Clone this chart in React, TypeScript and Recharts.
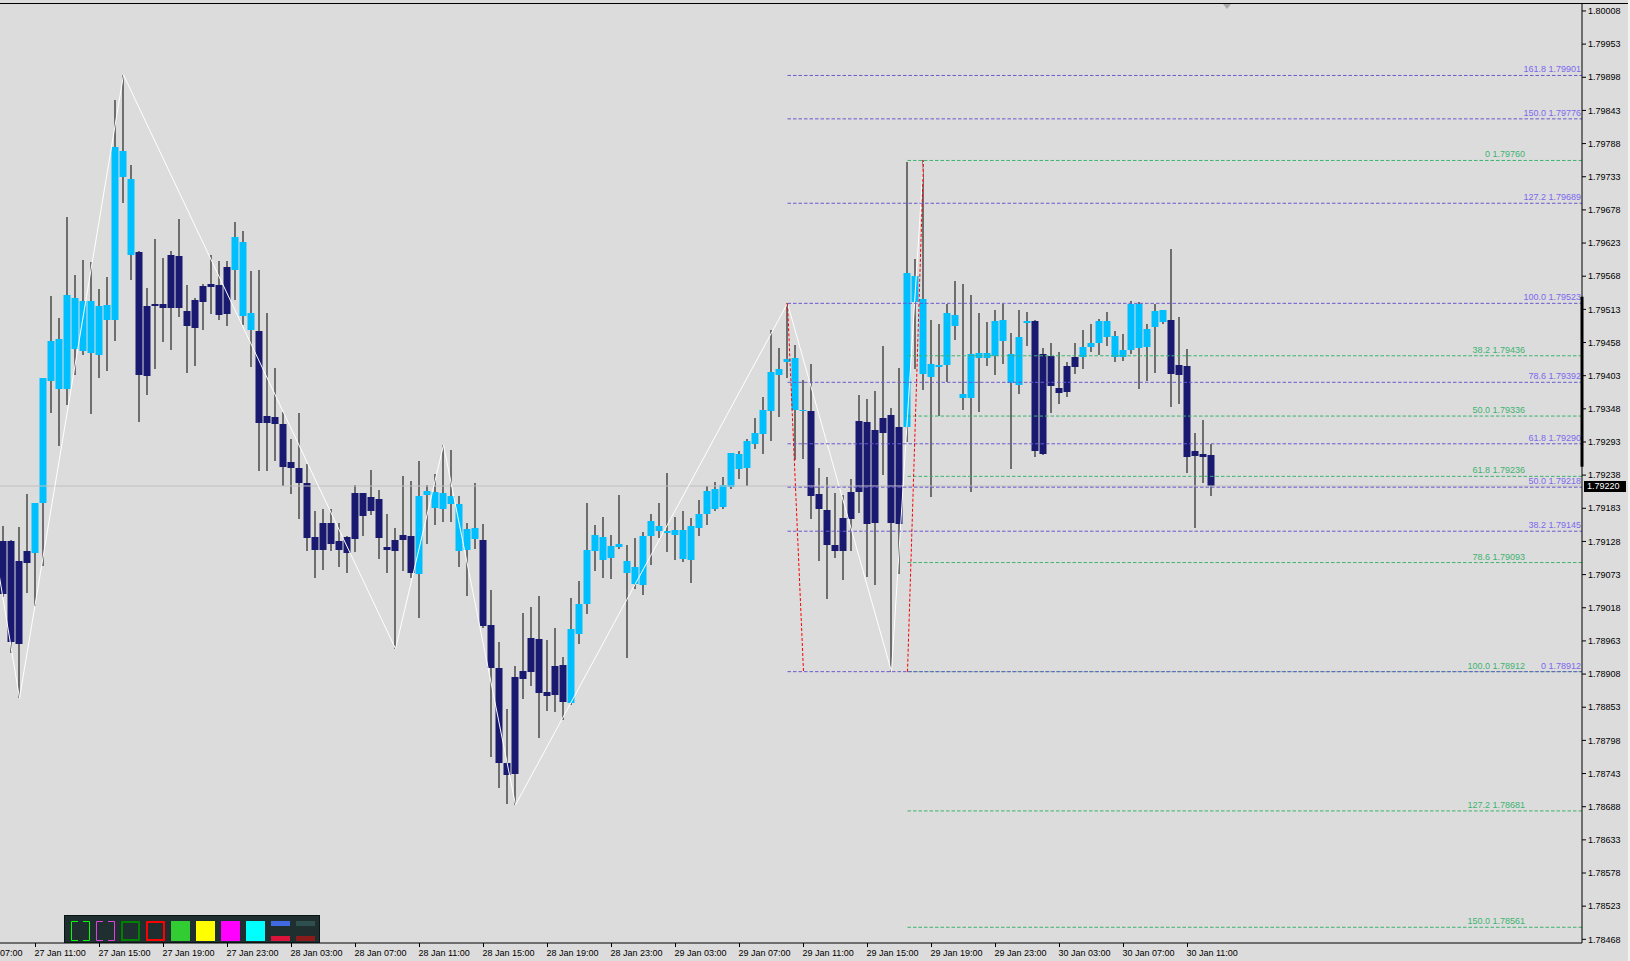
import React from 'react';
import { ComposedChart, Bar, Line, XAxis, YAxis, ReferenceLine } from 'recharts';

// EURAUD-style M30 chart, bars numbered from 27 Jan 09:00
const opens = [
  1.79129, 1.79129, 1.79096, 1.79112, 1.79109, 1.79192, 1.79394, 1.79381, 1.79381, 1.79447,
  1.79444, 1.79441, 1.79437, 1.79495, 1.79495, 1.79733, 1.79603, 1.79608, 1.79519, 1.79522,
  1.79522, 1.79603, 1.79602, 1.79510, 1.79529, 1.79552, 1.79555, 1.79553, 1.79583, 1.79578,
  1.79502, 1.79479, 1.79477, 1.79336, 1.79334, 1.79323, 1.79260, 1.79250, 1.79225, 1.79135,
  1.79159, 1.79159, 1.79129, 1.79135, 1.79208, 1.79208, 1.79202, 1.79198, 1.79120, 1.79130,
  1.79139, 1.79137, 1.79074, 1.79205, 1.79184, 1.79182, 1.79190, 1.79112, 1.79114, 1.79132,
  1.79130, 1.78989, 1.78918, 1.78761, 1.78903, 1.78913, 1.78968, 1.78966, 1.78878, 1.78921,
  1.78923, 1.78860, 1.78975, 1.79024, 1.79112, 1.79097, 1.79101, 1.79119, 1.79076, 1.79057,
  1.79056, 1.79137, 1.79145, 1.79142, 1.79139, 1.79099, 1.79097, 1.79150, 1.79174, 1.79182,
  1.79185, 1.79218, 1.79248, 1.79250, 1.79290, 1.79306, 1.79344, 1.79404, 1.79426, 1.79346,
  1.79344, 1.79344, 1.79207, 1.79180, 1.79122, 1.79167, 1.79210, 1.79328, 1.79326, 1.79313,
  1.79333, 1.79338, 1.79318, 1.79318, 1.79525, 1.79406, 1.79401, 1.79417, 1.79421, 1.79485,
  1.79366, 1.79366, 1.79432, 1.79432, 1.79436, 1.79461, 1.79391, 1.79388, 1.79490, 1.79494,
  1.79439, 1.79436, 1.79383, 1.79419, 1.79434, 1.79434, 1.79451, 1.79457, 1.79467, 1.79434,
  1.79434, 1.79446, 1.79449, 1.79451, 1.79484, 1.79492, 1.79495, 1.79421, 1.79419, 1.79278,
  1.79273, 1.79271,
];
const highs = [
  1.79154, 1.79130, 1.79152, 1.79207, 1.79192, 1.79399, 1.79535, 1.79499, 1.79666, 1.79570,
  1.79595, 1.79592, 1.79547, 1.79567, 1.79860, 1.79902, 1.79753, 1.79610, 1.79548, 1.79630,
  1.79598, 1.79610, 1.79663, 1.79553, 1.79532, 1.79555, 1.79603, 1.79593, 1.79593, 1.79658,
  1.79643, 1.79577, 1.79578, 1.79507, 1.79416, 1.79343, 1.79298, 1.79341, 1.79257, 1.79179,
  1.79182, 1.79182, 1.79159, 1.79137, 1.79222, 1.79208, 1.79247, 1.79213, 1.79174, 1.79150,
  1.79237, 1.79228, 1.79261, 1.79222, 1.79240, 1.79288, 1.79280, 1.79203, 1.79159, 1.79225,
  1.79157, 1.79047, 1.78961, 1.78850, 1.78921, 1.79009, 1.79019, 1.79038, 1.78965, 1.78984,
  1.78936, 1.79034, 1.79062, 1.79192, 1.79155, 1.79169, 1.79139, 1.79205, 1.79122, 1.79134,
  1.79144, 1.79174, 1.79192, 1.79242, 1.79169, 1.79179, 1.79167, 1.79197, 1.79220, 1.79227,
  1.79235, 1.79275, 1.79278, 1.79298, 1.79333, 1.79368, 1.79479, 1.79449, 1.79523, 1.79454,
  1.79396, 1.79422, 1.79250, 1.79235, 1.79208, 1.79205, 1.79232, 1.79371, 1.79364, 1.79378,
  1.79452, 1.79349, 1.79416, 1.79758, 1.79597, 1.79760, 1.79495, 1.79489, 1.79522, 1.79560,
  1.79555, 1.79537, 1.79507, 1.79492, 1.79512, 1.79522, 1.79474, 1.79512, 1.79509, 1.79495,
  1.79449, 1.79457, 1.79442, 1.79426, 1.79457, 1.79479, 1.79489, 1.79497, 1.79509, 1.79477,
  1.79472, 1.79527, 1.79525, 1.79489, 1.79522, 1.79512, 1.79613, 1.79500, 1.79447, 1.79308,
  1.79330, 1.79290,
];
const lows = [
  1.79036, 1.78943, 1.78868, 1.79042, 1.79021, 1.79087, 1.79341, 1.79286, 1.79354, 1.79404,
  1.79437, 1.79339, 1.79399, 1.79411, 1.79461, 1.79689, 1.79562, 1.79326, 1.79371, 1.79414,
  1.79459, 1.79446, 1.79500, 1.79407, 1.79419, 1.79479, 1.79505, 1.79495, 1.79485, 1.79529,
  1.79487, 1.79417, 1.79245, 1.79245, 1.79261, 1.79220, 1.79207, 1.79165, 1.79112, 1.79067,
  1.79081, 1.79112, 1.79086, 1.79076, 1.79111, 1.79137, 1.79172, 1.79099, 1.79076, 1.78950,
  1.79079, 1.79067, 1.79001, 1.79124, 1.79155, 1.79160, 1.79160, 1.79086, 1.79038, 1.79116,
  1.78984, 1.78770, 1.78719, 1.78692, 1.78691, 1.78867, 1.78888, 1.78802, 1.78847, 1.78845,
  1.78832, 1.78857, 1.78958, 1.79008, 1.79079, 1.79067, 1.79066, 1.79116, 1.78935, 1.79049,
  1.79039, 1.79089, 1.79134, 1.79111, 1.79097, 1.79094, 1.79059, 1.79137, 1.79155, 1.79179,
  1.79182, 1.79215, 1.79232, 1.79220, 1.79281, 1.79273, 1.79295, 1.79334, 1.79399, 1.79263,
  1.79265, 1.79165, 1.79096, 1.79033, 1.79101, 1.79064, 1.79112, 1.79175, 1.79069, 1.79056,
  1.79238, 1.78912, 1.79074, 1.79293, 1.79414, 1.79379, 1.79202, 1.79336, 1.79392, 1.79462,
  1.79346, 1.79210, 1.79343, 1.79419, 1.79404, 1.79422, 1.79248, 1.79373, 1.79452, 1.79268,
  1.79271, 1.79341, 1.79356, 1.79368, 1.79406, 1.79414, 1.79442, 1.79437, 1.79452, 1.79426,
  1.79427, 1.79439, 1.79381, 1.79394, 1.79407, 1.79489, 1.79351, 1.79356, 1.79242, 1.79150,
  1.79225, 1.79203,
];
const closes = [
  1.79041, 1.78961, 1.78958, 1.79092, 1.79192, 1.79399, 1.79461, 1.79464, 1.79537, 1.79532,
  1.79527, 1.79527, 1.79519, 1.79520, 1.79782, 1.79776, 1.79729, 1.79404, 1.79403, 1.79519,
  1.79515, 1.79515, 1.79515, 1.79485, 1.79482, 1.79525, 1.79550, 1.79504, 1.79505, 1.79633,
  1.79625, 1.79507, 1.79325, 1.79325, 1.79323, 1.79252, 1.79250, 1.79225, 1.79134, 1.79114,
  1.79114, 1.79124, 1.79114, 1.79109, 1.79132, 1.79170, 1.79179, 1.79134, 1.79114, 1.79112,
  1.79130, 1.79076, 1.79203, 1.79212, 1.79210, 1.79208, 1.79203, 1.79190, 1.79149, 1.79150,
  1.78988, 1.78918, 1.78761, 1.78741, 1.78742, 1.78900, 1.78911, 1.78877, 1.78872, 1.78873,
  1.78862, 1.78983, 1.79024, 1.79114, 1.79139, 1.79135, 1.79120, 1.79125, 1.79096, 1.79086,
  1.79137, 1.79162, 1.79154, 1.79145, 1.79147, 1.79147, 1.79154, 1.79174, 1.79212, 1.79215,
  1.79222, 1.79275, 1.79273, 1.79295, 1.79308, 1.79346, 1.79409, 1.79414, 1.79431, 1.79432,
  1.79346, 1.79203, 1.79182, 1.79122, 1.79112, 1.79112, 1.79165, 1.79210, 1.79157, 1.79159,
  1.79308, 1.79159, 1.79157, 1.79573, 1.79568, 1.79530, 1.79422, 1.79421, 1.79507, 1.79504,
  1.79373, 1.79439, 1.79441, 1.79441, 1.79494, 1.79495, 1.79439, 1.79467, 1.79494, 1.79278,
  1.79273, 1.79386, 1.79374, 1.79376, 1.79417, 1.79451, 1.79457, 1.79494, 1.79494, 1.79469,
  1.79446, 1.79522, 1.79522, 1.79480, 1.79510, 1.79512, 1.79406, 1.79404, 1.79268, 1.79270,
  1.79268, 1.79220,
];

// zigzag turning points: bar index and price
const zigzagBars = [-3, 2, 15, 49, 55, 64, 98, 111, 115];
const zigzagPrices = [1.7927, 1.78868, 1.79902, 1.7895, 1.79288, 1.78691, 1.79523, 1.78912, 1.7976];

// fibonacci tools
const purpleStartBar = 98;
const purpleLevels = [1.79901, 1.79829, 1.79689, 1.79523, 1.79392, 1.7929, 1.79218, 1.79145, 1.78912];
const purpleLabels = ['161.8 1.79901', '150.0 1.79776', '127.2 1.79689', '100.0 1.79523', '78.6 1.79392', '61.8 1.79290', '50.0 1.79218', '38.2 1.79145', '0 1.78912'];
const greenStartBar = 113;
const greenLevels = [1.7976, 1.79436, 1.79336, 1.79236, 1.79093, 1.78912, 1.78681, 1.78488];
const greenLabels = ['0 1.79760', '38.2 1.79436', '50.0 1.79336', '61.8 1.79236', '78.6 1.79093', '100.0 1.78912', '127.2 1.78681', '150.0 1.78561'];

// red trend lines of the fib tools
const trendA = [{ bar: 98, price: 1.79523 }, { bar: 100, price: 1.78912 }];
const trendB = [{ bar: 113, price: 1.78912 }, { bar: 115, price: 1.7976 }];

const bidPrice = 1.7922;
const rangeMarker = [1.79534, 1.79252];

const yTicks = [
  1.80008, 1.79953, 1.79898, 1.79843, 1.79788, 1.79733, 1.79678, 1.79623, 1.79568, 1.79513,
  1.79458, 1.79403, 1.79348, 1.79293, 1.79238, 1.79183, 1.79128, 1.79073, 1.79018, 1.78963,
  1.78908, 1.78853, 1.78798, 1.78743, 1.78688, 1.78633, 1.78578, 1.78523, 1.78468,
];
const xTickBars = [-4, 4, 12, 20, 28, 36, 44, 52, 60, 68, 76, 84, 92, 100, 108, 116, 124, 132, 140, 148];
const xTickLabels = [
  '27 Jan 07:00', '27 Jan 11:00', '27 Jan 15:00', '27 Jan 19:00', '27 Jan 23:00',
  '28 Jan 03:00', '28 Jan 07:00', '28 Jan 11:00', '28 Jan 15:00', '28 Jan 19:00', '28 Jan 23:00',
  '29 Jan 03:00', '29 Jan 07:00', '29 Jan 11:00', '29 Jan 15:00', '29 Jan 19:00', '29 Jan 23:00',
  '30 Jan 03:00', '30 Jan 07:00', '30 Jan 11:00',
];

const X_MIN = -0.4375;
const X_MAX = 197.3125;
const Y_MIN = 1.784619;
const Y_MAX = 1.800212;

const FONT = '"Liberation Sans", Arial, sans-serif';
const BULL = '#00BFFF';
const BEAR = '#191970';
const PURPLE = '#6A5ACD';
const GREEN = '#3CB371';

const bars = opens.map((o, i) => ({ j: i, o, h: highs[i], l: lows[i], c: closes[i] }));
const zigzag = zigzagBars.map((b, i) => ({ j: b, zz: zigzagPrices[i] }));

const Candle = (props: any) => {
  const { x, y, width, height } = props;
  const d = props.payload || props;
  if (x == null || y == null) return null;
  const top = Math.round(Math.min(y, y + height));
  const bot = Math.round(Math.max(y, y + height));
  const span = d.h - d.l || 1e-9;
  const toY = (v: number) => top + ((d.h - v) / span) * (bot - top);
  const cx = x + width / 2;
  const yo = Math.round(toY(d.o));
  const yc = Math.round(toY(d.c));
  const bodyTop = Math.min(yo, yc);
  const bodyH = Math.max(Math.abs(yc - yo), 1);
  return (
    <g>
      <rect x={cx - 0.5} y={top} width={1} height={Math.max(bot - top, 1)} fill="#000" />
      <rect x={cx - 3.5} y={bodyTop} width={7} height={bodyH} fill={d.c >= d.o ? BULL : BEAR} />
    </g>
  );
};

const XTick = (props: any) => {
  const { x, y, payload } = props;
  const label = xTickLabels[xTickBars.indexOf(payload.value)];
  return (
    <text x={x - 1} y={y + 6.5} fontSize={9} fontFamily={FONT} fill="#000" textAnchor="start">
      {label}
    </text>
  );
};

const fibLabel = (text: string, color: string, inset: number) => (p: any) => {
  const vb = p && p.viewBox;
  if (!vb) return null;
  return (
    <text x={vb.x + vb.width - inset} y={vb.y - 3} fontSize={9} fontFamily={FONT} fill={color} textAnchor="end">
      {text}
    </text>
  );
};

const bidLabel = (p: any) => {
  const vb = p && p.viewBox;
  if (!vb) return null;
  const x0 = vb.x + vb.width + 2;
  return (
    <g>
      <rect x={x0} y={vb.y - 5} width={42} height={11} fill="#000" />
      <text x={x0 + 3} y={vb.y + 3.5} fontSize={9} fontFamily={FONT} fill="#fff">
        {bidPrice.toFixed(5)}
      </text>
    </g>
  );
};

const Toolbar = () => {
  const icons = [
    { kind: 'bracket', color: '#00FF00' },
    { kind: 'bracket', color: '#E040E0' },
    { kind: 'frame', color: '#008000' },
    { kind: 'frame', color: '#FF0000' },
    { kind: 'fill', color: '#32CD32' },
    { kind: 'fill', color: '#FFFF00' },
    { kind: 'fill', color: '#FF00FF' },
    { kind: 'fill', color: '#00FFFF' },
    { kind: 'bars', color: '#4169E1', color2: '#DC143C' },
    { kind: 'bars', color: '#2F4F4F', color2: '#8B1A1A' },
  ];
  return (
    <svg width={256} height={28} style={{ position: 'absolute', left: 64, top: 915 }}>
      <rect x={0.5} y={0.5} width={255} height={27} fill="#1F2F2F" stroke="#0A1414" />
      {icons.map((ic, i) => {
        const x0 = 7 + i * 25;
        if (ic.kind === 'bracket') {
          return (
            <path
              key={i}
              d={`M${x0 + 7} 6.5 H${x0 + 0.5} V25.5 H${x0 + 7} M${x0 + 12} 6.5 H${x0 + 18.5} V25.5 H${x0 + 12}`}
              fill="none"
              stroke={ic.color}
            />
          );
        }
        if (ic.kind === 'frame') {
          return <rect key={i} x={x0 + 1} y={7} width={17} height={18} fill="none" stroke={ic.color} strokeWidth={2} />;
        }
        if (ic.kind === 'fill') {
          return <rect key={i} x={x0} y={6} width={19} height={20} fill={ic.color} />;
        }
        return (
          <g key={i}>
            <rect x={x0} y={6} width={19} height={5} fill={ic.color} />
            <rect x={x0} y={21} width={19} height={5} fill={ic.color2} />
          </g>
        );
      })}
    </svg>
  );
};

export default function App() {
  return (
    <div style={{ position: 'absolute', left: 0, top: 0, width: 1630, height: 961, background: '#DCDCDC', overflow: 'hidden' }}>
      <ComposedChart width={1630} height={961} data={bars} margin={{ top: 3, right: 0, bottom: 0, left: 0 }}>
        <XAxis
          dataKey="j"
          type="number"
          domain={[X_MIN, X_MAX]}
          allowDataOverflow
          ticks={xTickBars}
          interval={0}
          tick={<XTick />}
          tickSize={4}
          height={18}
          axisLine={{ stroke: '#000' }}
          tickLine={{ stroke: '#000' }}
        />
        <YAxis
          orientation="right"
          type="number"
          domain={[Y_MIN, Y_MAX]}
          allowDataOverflow
          ticks={yTicks}
          interval={0}
          width={48}
          tickSize={4}
          tickFormatter={(v: number) => v.toFixed(5)}
          tick={{ fontSize: 9, fill: '#000', fontFamily: FONT }}
          axisLine={{ stroke: '#000' }}
          tickLine={{ stroke: '#000' }}
        />
        <ReferenceLine y={bidPrice} stroke="#C0C0C0" label={bidLabel} />
        <Line
          data={zigzag}
          dataKey="zz"
          stroke="#FFFFFF"
          strokeWidth={1}
          dot={false}
          activeDot={false}
          isAnimationActive={false}
        />
        <Bar dataKey={(d: any) => [d.l, d.h]} barSize={7} shape={<Candle />} isAnimationActive={false} />
        {greenLevels.map((lv, i) => (
          <ReferenceLine
            key={'g' + i}
            segment={[{ x: greenStartBar, y: lv }, { x: X_MAX, y: lv }]}
            stroke={GREEN}
            strokeDasharray="3.5 2"
            label={fibLabel(greenLabels[i], GREEN, 57)}
          />
        ))}
        {purpleLevels.map((lv, i) => (
          <ReferenceLine
            key={'p' + i}
            segment={[{ x: purpleStartBar, y: lv }, { x: X_MAX, y: lv }]}
            stroke={PURPLE}
            strokeDasharray="3.5 2"
            label={fibLabel(purpleLabels[i], '#7B68EE', 1)}
          />
        ))}
        <ReferenceLine
          segment={[{ x: trendA[0].bar, y: trendA[0].price }, { x: trendA[1].bar, y: trendA[1].price }]}
          stroke="#FF0000"
          strokeDasharray="3 2"
        />
        <ReferenceLine
          segment={[{ x: trendB[0].bar, y: trendB[0].price }, { x: trendB[1].bar, y: trendB[1].price }]}
          stroke="#FF0000"
          strokeDasharray="3 2"
        />
        <ReferenceLine
          segment={[{ x: X_MAX, y: rangeMarker[0] }, { x: X_MAX, y: rangeMarker[1] }]}
          stroke="#000"
          strokeWidth={3}
          ifOverflow="visible"
        />
      </ComposedChart>
      <div style={{ position: 'absolute', left: 0, top: 3, width: 1628, height: 1, background: '#000' }} />
      <div style={{ position: 'absolute', left: 1628, top: 0, width: 2, height: 961, background: '#F2F2F2' }} />
      <div
        style={{
          position: 'absolute',
          left: 1223,
          top: 4,
          width: 0,
          height: 0,
          borderLeft: '4px solid transparent',
          borderRight: '4px solid transparent',
          borderTop: '5px solid #A8A8A8',
        }}
      />
      <Toolbar />
    </div>
  );
}
